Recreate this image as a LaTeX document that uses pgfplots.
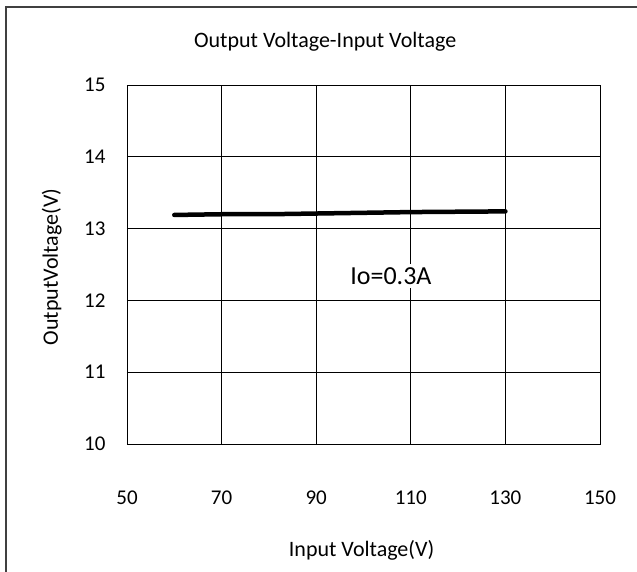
\documentclass[border=0pt]{standalone}
\usepackage{fontspec}
\setmainfont{Carlito}
\usepackage{pgfplots}
\pgfplotsset{compat=1.18}

\begin{document}
\begin{tikzpicture}[x=1pt,y=1pt]
% page size = reference size (origin at the axis' lower left corner)
\path[use as bounding box] (-127,-128) rectangle (510,444);
\draw[line width=2pt,black!75] (-121,-128) -- (-121,437) -- (510,437);
\begin{axis}[
  at={(0,0)}, anchor=south west,
  scale only axis,
  width=473pt, height=359pt,
  xmin=50, xmax=150, ymin=10, ymax=15,
  xtick={50,70,...,150},
  ytick={10,11,...,15},
  grid=major,
  grid style={black, line width=0.9pt},
  axis line style={black, line width=0.9pt},
  major tick length=0pt,
  /pgf/number format/assume math mode=true,
  tick label style={font=\fontsize{21}{25}\selectfont},
  xticklabel style={yshift=-43pt},
  yticklabel style={xshift=-18pt},
  label style={font=\fontsize{22}{26}\selectfont},
  xlabel={Input Voltage(V)},
  xlabel style={at={(axis description cs:0.496,-0.297)}, anchor=center},
  ylabel={OutputVoltage(V)},
  ylabel style={at={(axis description cs:-0.159,0.493)}, anchor=center, rotate=0},
  title={Output Voltage-Input Voltage},
  title style={at={(axis description cs:0.419,1.103)}, anchor=center, font=\fontsize{22}{26}\selectfont},
]
\addplot[black, line width=4.5pt, line cap=round] coordinates {
  (60,13.19) (70,13.20) (80,13.20) (90,13.21) (100,13.22) (110,13.23) (120,13.235) (130,13.24)
};
\node[fill=white, inner sep=3pt, font=\fontsize{26}{30}\selectfont] at (axis cs:105.8,12.34) {Io=0.3A};
\end{axis}
\end{tikzpicture}
\end{document}
